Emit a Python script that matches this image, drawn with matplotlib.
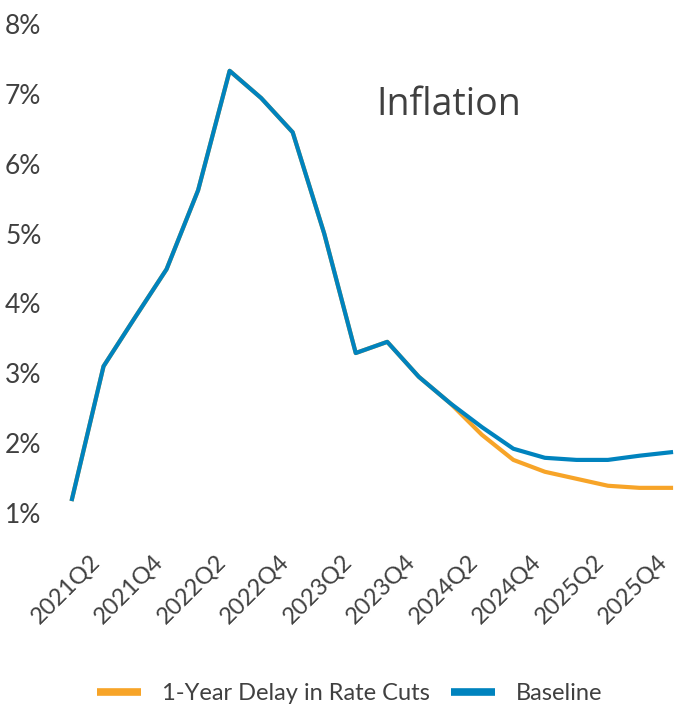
import matplotlib
matplotlib.use("Agg")
import matplotlib.pyplot as plt
from matplotlib.transforms import ScaledTranslation

plt.rcParams['font.family'] = ['Lato', 'DejaVu Sans']

quarters = [f"{y}Q{q}" for y in range(2021, 2026) for q in range(1, 5)]
baseline = [1.20, 3.10, 3.80, 4.49, 5.62, 7.33, 6.94, 6.45, 5.00, 3.29,
            3.45, 2.95, 2.57, 2.23, 1.92, 1.79, 1.76, 1.76, 1.82, 1.87]
delay = [1.20, 3.10, 3.80, 4.49, 5.62, 7.33, 6.94, 6.45, 5.00, 3.29,
         3.45, 2.95, 2.57, 2.12, 1.76, 1.59, 1.49, 1.39, 1.36, 1.36]
yticks = [1, 2, 3, 4, 5, 6, 7, 8]
title = "Inflation"

text_color = '#404040'
orange = '#F7A428'
blue = '#0083BE'

fig = plt.figure(figsize=(6.82, 7.05), dpi=100)
ax = fig.add_axes([72/682, 1-513/705, (671-72)/682, (513-24)/705])

x = list(range(len(quarters)))
ax.plot(x, delay, color=orange, lw=3, label='1-Year Delay in Rate Cuts', clip_on=False)
ax.plot(x, baseline, color=blue, lw=3, label='Baseline', clip_on=False)

ax.set_xlim(0, len(quarters)-1)
ax.set_ylim(1, 8)
ax.set_yticks(yticks)
ax.set_yticklabels([f"{v}%" for v in yticks], fontsize=19, color=text_color)
tick_pos = x[1::2]
ax.set_xticks(tick_pos)
ax.set_xticklabels([quarters[i] for i in tick_pos], rotation=45, ha='right',
                   fontsize=17, color=text_color)
offset = ScaledTranslation(9/100, 0, fig.dpi_scale_trans)
for lab in ax.get_xticklabels():
    lab.set_transform(lab.get_transform() + offset)
ax.tick_params(axis='both', length=0)
ax.tick_params(axis='y', pad=22)
ax.tick_params(axis='x', pad=27)
for s in ax.spines.values():
    s.set_visible(False)

fig.text(449/682, 1-105/705, title, ha='center', va='center', fontsize=27,
         color=text_color, family=['Open Sans', 'DejaVu Sans'])

leg = fig.legend(loc='center', bbox_to_anchor=(350/682, 1-694/705), ncol=2, frameon=False,
                 fontsize=17, handlelength=1.86, handletextpad=0.89, columnspacing=0.89,
                 labelcolor=text_color)
for h in leg.get_lines():
    h.set_linewidth(5.5)
    h.set_solid_capstyle('butt')

fig.savefig('out.png', dpi=100)
